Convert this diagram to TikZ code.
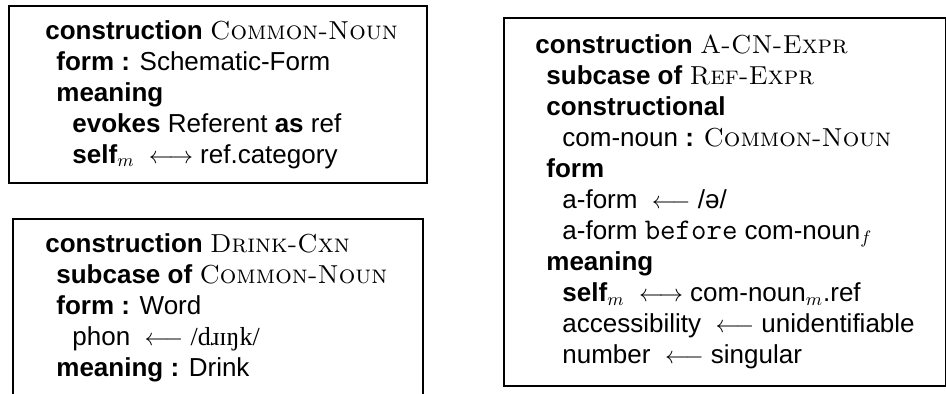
\documentclass[tikz,border=0pt]{standalone}
\usepackage{fontspec}
\setsansfont{Liberation Sans}
\newfontfamily\ipafont{Liberation Serif}
\usepackage{tikz}
\usetikzlibrary{positioning}
\tikzstyle{cxnframe} = [rectangle,
anchor=north west,
inner sep=0pt,
line width=1pt,
draw=black,
fill=white]
\tikzstyle{cxntext} = [align=left,
anchor=west,
inner sep=0pt,
font=\sffamily\fontsize{13}{15.5}\selectfont]
\newcommand{\cxn}[1]{{\rmfamily\scshape #1}}
\newcommand{\cxntt}[1]{{\ttfamily\fontsize{15}{15.5}\selectfont #1}}
\newcommand{\ione}{\hspace*{5.5pt}}
\newcommand{\itwo}{\hspace*{13.5pt}}

\begin{document}
\begin{tikzpicture}[x=0.5pt,y=-0.5pt]
				\clip (0,0) rectangle (946,394);
				\node[cxnframe, minimum width=209pt, minimum height=88.5pt] (common) at (8,5) {};
				\node[cxnframe, minimum width=205pt, minimum height=89pt] (drink) at (12,218) {};
				\node[cxnframe, minimum width=221pt, minimum height=184pt] (acn) at (503,17) {};

				\node[cxntext, right=18.5pt of common.west] (common-text) {\textbf{construction} \cxn{Common-Noun}\\
					\ione\textbf{form :} Schematic-Form\\
					\ione\textbf{meaning}\\
					\itwo\textbf{evokes} Referent \textbf{as} ref\\
					\itwo\textbf{self}$_m$\ \ $\longleftrightarrow$ ref.category};
				\node[cxntext, right=16.5pt of drink.west] (drink-text) {\textbf{construction} \cxn{Drink-Cxn}\\
					\ione\textbf{subcase of} \cxn{Common-Noun}\\
					\ione\textbf{form :} Word\\
					\itwo phon\ \ $\longleftarrow$ {\ipafont /dɹɪŋk/}\\
					\ione\textbf{meaning :} Drink};
				\node[cxntext, right=16pt of acn.west] (acn-text) {\textbf{construction} \cxn{A-CN-Expr}\\
					\ione\textbf{subcase of} \cxn{Ref-Expr}\\
					\ione\textbf{constructional}\\
					\itwo com-noun \textbf{:} \cxn{Common-Noun}\\
					\ione\textbf{form}\\
					\itwo a-form\ \ $\longleftarrow$ /ə/\\
					\itwo a-form \cxntt{before} com-noun$_f$\\
					\ione\textbf{meaning}\\
					\itwo\textbf{self}$_m$\ \ $\longleftrightarrow$ com-noun$_m$.ref\\
					\itwo accessibility\ \ $\longleftarrow$ unidentifiable\\
					\itwo number\ \ $\longleftarrow$ singular};
			\end{tikzpicture}
\end{document}
